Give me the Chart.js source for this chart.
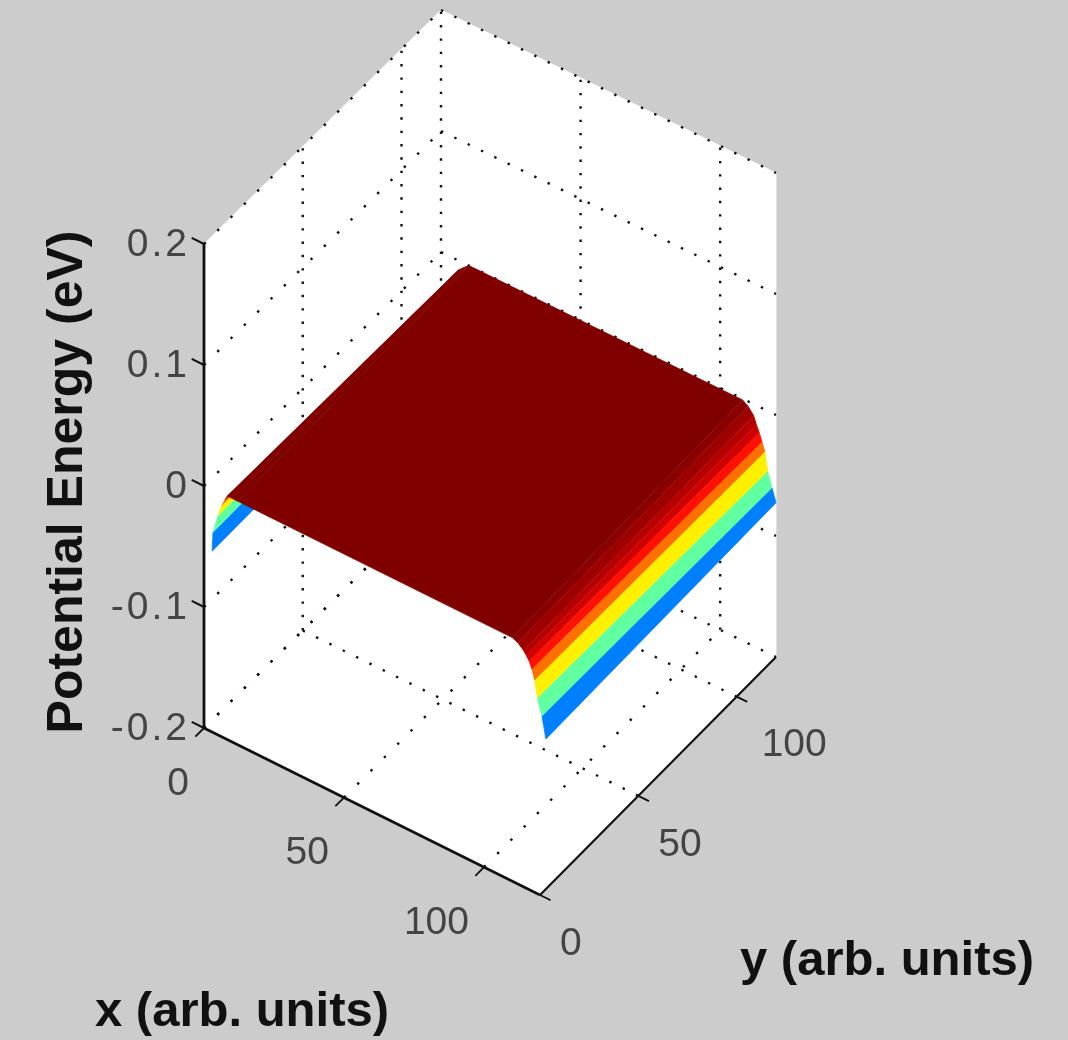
<!DOCTYPE html>
<html><head><meta charset="utf-8">
<script src="https://cdn.jsdelivr.net/npm/chart.js@4/dist/chart.umd.js"></script>
<style>
html,body{margin:0;padding:0;background:#cccccc;}
#wrap{width:1068px;height:1040px;}
canvas{display:block;filter:blur(0.6px);}
</style></head><body>
<div id="wrap"><canvas id="c" width="1068" height="1040"></canvas></div>
<script>
// ---- data ----
const xLimits = [0, 120];
const yLimits = [0, 120];
const zLimits = [-0.2, 0.2];
const xTicks = [0, 50, 100];
const yTicks = [0, 50, 100];
const zTicks = [-0.2, -0.1, 0, 0.1, 0.2];
const xTickLabels = ['0', '50', '100'];
const yTickLabels = ['0', '50', '100'];
const zTickLabels = ['-0.2', '-0.1', '0', '0.1', '0.2'];
const xTitle = 'x (arb. units)';
const yTitle = 'y (arb. units)';
const zTitle = 'Potential Energy (eV)';
// surface: potential profile across x, at the near (y=3) and far (y=120) edges
const surfaceY = [3, 120];
const profileX = [0.8, 1.1, 2.9, 4.3, 5.4, 6.2, 8, 10, 108, 110, 112, 113, 114, 115, 116, 117, 118.6, 120];
const profileNearZ = [-0.058, -0.042, -0.026, -0.016, -0.010, -0.006, -0.006, -0.006, -0.006, -0.008, -0.012, -0.015, -0.0184, -0.024, -0.032, -0.0455, -0.0587, -0.076];
const profileFarZ = [-0.054, -0.038, -0.026, -0.018, -0.012, -0.008, -0.004, 0, -0.001, -0.004, -0.0095, -0.016, -0.0215, -0.028, -0.035, -0.05, -0.062, -0.0725];
const bandColors = ['#0080ff', '#60ffa0', '#fff000', '#ff7000', '#8c0000', '#800000', '#800000', '#800000', '#8a0000', '#9e0000', '#b60000', '#d00000', '#ff1000', '#ff7000', '#fff000', '#60ffa0', '#0080ff'];

// ---- view: 3-D box corners as seen on the page ----
const VIEW = { A: [204, 728], B: [540, 895], C: [776, 657], D: [441, 494], H: 484 };
function project(x, y, z) {
  const u = (x - xLimits[0]) / (xLimits[1] - xLimits[0]);
  const v = (y - yLimits[0]) / (yLimits[1] - yLimits[0]);
  const w = (z - zLimits[0]) / (zLimits[1] - zLimits[0]);
  const pick = i => (1 - u) * (1 - v) * VIEW.A[i] + u * (1 - v) * VIEW.B[i] + u * v * VIEW.C[i] + (1 - u) * v * VIEW.D[i];
  return { x: pick(0), y: pick(1) - w * VIEW.H };
}
const [x0, x1] = xLimits, [y0, y1] = yLimits, [z0, z1] = zLimits;
const layers = [];
function polygon(pts, color) {
  layers.push({ data: pts.map(p => project(...p)), showLine: true, fill: 'shape', backgroundColor: color,
    borderColor: color, borderWidth: 0.8, pointRadius: 0, tension: 0 });
}
function segment(a, b, color, width, dotted) {
  const pa = project(...a), pb = project(...b);
  const ds = { data: [pa, pb], showLine: true, fill: false, borderColor: color, borderWidth: width, pointRadius: 0, tension: 0 };
  if (dotted) {
    const dx = Math.abs(pb.x - pa.x), dy = Math.abs(pb.y - pa.y);
    const period = 13.33 * Math.hypot(dx, dy) / Math.max(dx, dy);
    ds.borderDash = [2.4, period - 2.4];
  }
  layers.push(ds);
}
// walls and floor
polygon([[x0, y0, z0], [x1, y0, z0], [x1, y1, z0], [x0, y1, z0]], '#ffffff');
polygon([[x0, y0, z0], [x0, y1, z0], [x0, y1, z1], [x0, y0, z1]], '#ffffff');
polygon([[x0, y1, z0], [x1, y1, z0], [x1, y1, z1], [x0, y1, z1]], '#ffffff');
// dotted grid
const DOT = '#111111';
xTicks.forEach(t => { segment([t, y0, z0], [t, y1, z0], DOT, 2.4, true); segment([t, y1, z0], [t, y1, z1], DOT, 2.4, true); });
yTicks.slice(1).forEach(t => { segment([x0, t, z0], [x1, t, z0], DOT, 2.4, true); segment([x0, t, z0], [x0, t, z1], DOT, 2.4, true); });
zTicks.forEach(t => { segment([x0, y0, t], [x0, y1, t], DOT, 2.4, true); segment([x0, y1, t], [x1, y1, t], DOT, 2.4, true); });
// surface, far side to near side
bandColors.forEach((col, i) => {
  polygon([[profileX[i], surfaceY[0], profileNearZ[i]], [profileX[i + 1], surfaceY[0], profileNearZ[i + 1]],
           [profileX[i + 1], surfaceY[1], profileFarZ[i + 1]], [profileX[i], surfaceY[1], profileFarZ[i]]], col);
});
// solid axes and tick marks
const AXIS = '#111111';
segment([x0, y0, z0], [x1, y0, z0], AXIS, 2.6);
segment([x1, y0, z0], [x1, y1, z0], AXIS, 2.2);
segment([x0, y0, z0], [x0, y0, z1], AXIS, 2.8);
xTicks.forEach(t => segment([t, y0, z0], [t, y0 - 4.4, z0], AXIS, 1.8));
yTicks.forEach(t => segment([x1, t, z0], [x1 + 3.8, t, z0], AXIS, 1.8));
zTicks.forEach(t => segment([x0, y0, t], [x0 - 4.4, y0, t], AXIS, 2));
const datasets = layers.map((d, i) => Object.assign(d, { order: layers.length - i, clip: false }));

const textPlugin = {
  id: 'axisText',
  afterDatasetsDraw(chart) {
    const ctx = chart.ctx;
    const sx = chart.scales.x, sy = chart.scales.y;
    const put = (txt, px, py, align, font, color, spacing) => {
      ctx.font = font; ctx.fillStyle = color; ctx.textAlign = align; ctx.textBaseline = 'middle';
      ctx.letterSpacing = spacing || '0px';
      ctx.fillText(txt, sx.getPixelForValue(px), sy.getPixelForValue(py));
      ctx.letterSpacing = '0px';
    };
    const tickFont = '39px "Liberation Sans"', tickCol = '#444444';
    xTicks.forEach((t, i) => { const p = project(t, y0, z0); put(xTickLabels[i], p.x - 15, p.y + 56, 'right', tickFont, tickCol); });
    yTicks.forEach((t, i) => { const p = project(x1, t, z0); put(yTickLabels[i], p.x + 20 + (i === 2 ? 5 : 0), p.y + 49, 'left', tickFont, tickCol); });
    zTicks.forEach((t, i) => { const p = project(x0, y0, t); put(zTickLabels[i], p.x - 14, p.y + 1, 'right', tickFont, tickCol, '3px'); });
    const titleFont = 'bold 50px "Liberation Sans"';
    ctx.save();
    put(xTitle, 242, 1012, 'center', 'bold 49px "Liberation Sans"', '#111111');
    put(yTitle, 887, 961, 'center', 'bold 49px "Liberation Sans"', '#111111');
    ctx.translate(sx.getPixelForValue(68), sy.getPixelForValue(482));
    ctx.rotate(-Math.PI / 2);
    ctx.font = titleFont; ctx.fillStyle = '#111111'; ctx.textAlign = 'center'; ctx.textBaseline = 'middle';
    ctx.fillText(zTitle, 0, 0);
    ctx.restore();
  }
};

new Chart(document.getElementById('c'), {
  type: 'scatter',
  data: { datasets },
  options: {
    responsive: false, animation: false, devicePixelRatio: 1,
    layout: { padding: 0 },
    plugins: { legend: { display: false }, title: { display: false }, tooltip: { enabled: false } },
    scales: {
      x: { type: 'linear', min: 0, max: 1068, display: false },
      y: { type: 'linear', min: 0, max: 1040, reverse: true, display: false }
    }
  },
  plugins: [textPlugin]
});
</script>
</body></html>
